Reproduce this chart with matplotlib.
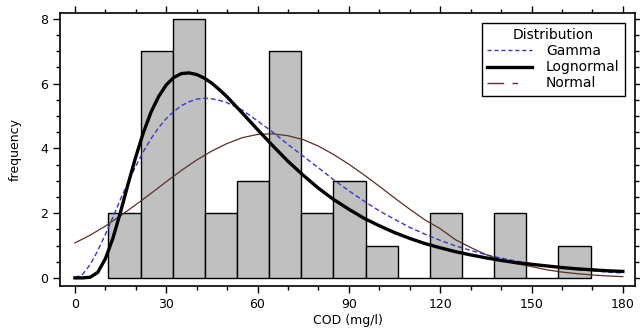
import numpy as np
import matplotlib
matplotlib.use('Agg')
import matplotlib.pyplot as plt
from matplotlib.lines import Line2D
from matplotlib.ticker import MultipleLocator

# histogram of COD (mg/l): bin edges and counts
bin_edges = np.linspace(11.0, 169.4, 16)
counts = [2, 7, 8, 2, 3, 7, 2, 3, 1, 0, 2, 0, 2, 0, 1]

# fitted curves (frequency scale)
x_fine = [0, 2.5, 5, 7.5, 10, 12.5, 15, 17.5, 20, 22.5, 25, 27.5, 30, 32.5, 35, 37.5,
          40, 42.5, 45, 47.5, 50, 55, 60, 65, 70, 75, 80, 85, 90, 95, 100, 105, 110,
          115, 120, 125, 130, 135, 140, 145, 150, 155, 160, 165, 170, 175, 180]
lognormal = [0, 0, 0.02, 0.17, 0.59, 1.23, 2.04, 2.91, 3.74, 4.49, 5.12, 5.60, 5.96,
             6.19, 6.31, 6.33, 6.28, 6.17, 6.01, 5.81, 5.59, 5.09, 4.58, 4.08, 3.60,
             3.17, 2.77, 2.42, 2.12, 1.84, 1.61, 1.40, 1.22, 1.06, 0.93, 0.81, 0.71,
             0.62, 0.54, 0.47, 0.42, 0.37, 0.32, 0.28, 0.25, 0.22, 0.20]
gamma = [0, 0.11, 0.41, 0.84, 1.34, 1.88, 2.43, 2.96, 3.45, 3.90, 4.30, 4.64, 4.92,
         5.14, 5.32, 5.44, 5.52, 5.55, 5.53, 5.48, 5.41, 5.18, 4.85, 4.50, 4.12,
         3.76, 3.40, 3.03, 2.69, 2.37, 2.07, 1.81, 1.56, 1.35, 1.16, 0.99, 0.85,
         0.72, 0.61, 0.52, 0.44, 0.37, 0.31, 0.26, 0.22, 0.18, 0.15]

x_norm = [0, 5, 10, 15, 20, 25, 30, 35, 40, 45, 50, 55, 60, 65, 70, 75, 80, 85, 90,
          95, 100, 105, 110, 115, 120, 125, 130, 135, 140, 145, 150, 155, 160, 165,
          170, 175, 180]
normal = [1.08, 1.32, 1.60, 1.92, 2.26, 2.61, 2.97, 3.32, 3.64, 3.92, 4.15, 4.33,
          4.43, 4.45, 4.39, 4.27, 4.07, 3.81, 3.51, 3.18, 2.83, 2.47, 2.12, 1.79,
          1.52, 1.18, 0.94, 0.72, 0.56, 0.44, 0.35, 0.25, 0.18, 0.13, 0.09, 0.06, 0.04]

plt.rcParams['font.family'] = ['DejaVu Sans']

fig = plt.figure(figsize=(6.4, 3.29), dpi=100)
ax = fig.add_axes([60 / 640, 1 - 286 / 329, 575 / 640, 273 / 329])

ax.hist(bin_edges[:-1], bins=bin_edges, weights=counts, color='#c0c0c0',
        edgecolor='black', linewidth=1.0, zorder=1)

blue = '#3838c8'
brown = '#5a3028'
ax.plot(x_fine, gamma, color=blue, lw=1.0, dashes=(3.5, 2), zorder=3)
ax.plot(x_fine, lognormal, color='black', lw=2.4, zorder=4)
ax.plot(x_norm, normal, color=brown, lw=0.9, zorder=2)

ax.set_xlim(-4.9, 184)
ax.set_ylim(-0.25, 8.18)
ax.xaxis.set_major_locator(MultipleLocator(30))
ax.xaxis.set_minor_locator(MultipleLocator(10))
ax.yaxis.set_major_locator(MultipleLocator(2))
ax.yaxis.set_minor_locator(MultipleLocator(0.5))
ax.tick_params(which='both', direction='out', top=True, right=True,
               labelsize=9, width=1.0)
ax.tick_params(which='major', length=5)
ax.tick_params(which='minor', length=3)
for s in ax.spines.values():
    s.set_linewidth(1.2)

ax.set_xlabel('COD (mg/l)', fontsize=9, labelpad=2)
ax.set_ylabel('frequency', fontsize=9, labelpad=13)

handles = [Line2D([], [], color=blue, lw=1.0, dashes=(3, 2)),
           Line2D([], [], color='black', lw=2.4),
           Line2D([], [], color=brown, lw=1.0, dashes=(12, 6, 4, 20))]
leg = ax.legend(handles, ['Gamma', 'Lognormal', 'Normal'], title='Distribution',
                loc='upper right', bbox_to_anchor=(0.9826, 0.9645), borderaxespad=0,
                fontsize=10, title_fontsize=10, fancybox=False, framealpha=1,
                edgecolor='black', handlelength=3.2, handletextpad=1.0,
                labelspacing=0.15, borderpad=0.4)
leg.get_frame().set_linewidth(1.0)

fig.savefig('out.png', dpi=100)
